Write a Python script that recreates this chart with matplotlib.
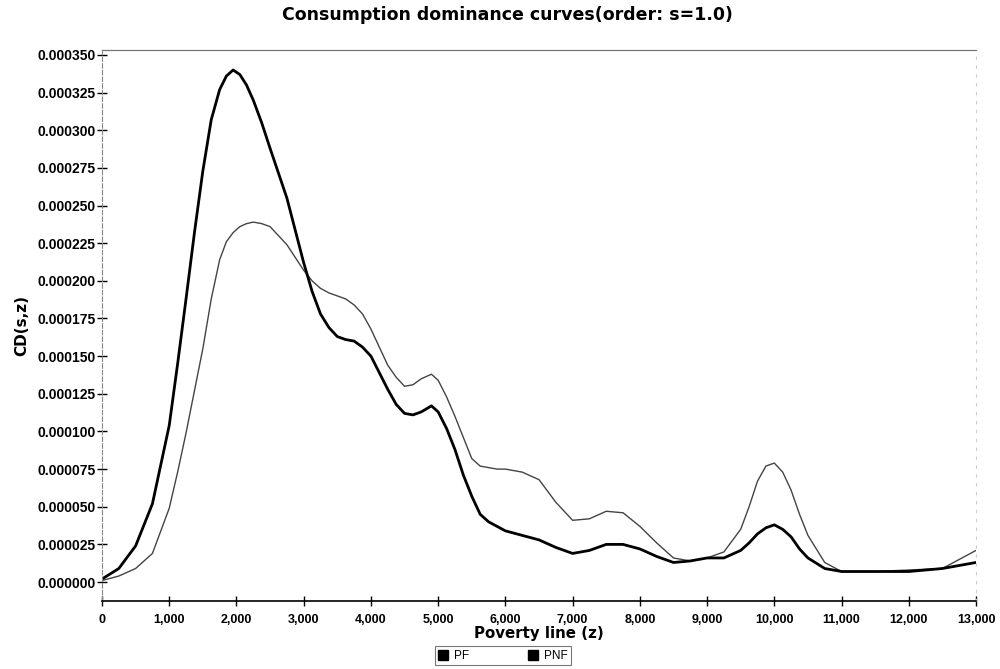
import matplotlib
matplotlib.use('Agg')

import matplotlib.pyplot as plt
import matplotlib.ticker as mticker
from matplotlib.lines import Line2D

# Poverty line grid (z) and the two dominance curves
z = [0, 250, 500, 750, 1000, 1125, 1250, 1375, 1500, 1625, 1750, 1850, 1950,
     2050, 2150, 2250, 2375, 2500, 2750, 3000, 3125, 3250, 3375, 3500, 3625,
     3750, 3875, 4000, 4125, 4250, 4375, 4500, 4625, 4750, 4900, 5000, 5125,
     5250, 5375, 5500, 5625, 5750, 5875, 6000, 6250, 6500, 6750, 7000,
     7250, 7500, 7750, 8000, 8250, 8500, 8750, 9000, 9250, 9500, 9625, 9750,
     9875, 10000, 10125, 10250, 10375, 10500, 10750, 11000, 11500, 12000,
     12500, 13000]

pf = [0.000002, 0.000009, 0.000024, 0.000052, 0.000104, 0.000145, 0.000188,
      0.000232, 0.000273, 0.000307, 0.000327, 0.000336, 0.000340, 0.000337,
      0.000330, 0.000320, 0.000305, 0.000288, 0.000255, 0.000212, 0.000193,
      0.000178, 0.000169, 0.000163, 0.000161, 0.000160, 0.000156, 0.000150,
      0.000139, 0.000128, 0.000118, 0.000112, 0.000111, 0.000113, 0.000117,
      0.000113, 0.000102, 0.000088, 0.000071, 0.000057, 0.000045, 0.000040,
      0.000037, 0.000034, 0.000031, 0.000028,
      0.000023, 0.000019, 0.000021, 0.000025, 0.000025, 0.000022, 0.000017,
      0.000013, 0.000014, 0.000016, 0.000016, 0.000021, 0.000026, 0.000032,
      0.000036, 0.000038, 0.000035, 0.000030, 0.000022, 0.000016, 0.000009,
      0.000007, 0.000007, 0.000007, 0.000009, 0.000013]

pnf = [0.000001, 0.000004, 0.000009, 0.000019, 0.000049, 0.000073, 0.000099,
       0.000127, 0.000155, 0.000188, 0.000214, 0.000226, 0.000232, 0.000236,
       0.000238, 0.000239, 0.000238, 0.000236, 0.000224, 0.000207, 0.000200,
       0.000195, 0.000192, 0.000190, 0.000188, 0.000184, 0.000178, 0.000168,
       0.000156, 0.000144, 0.000136, 0.000130, 0.000131, 0.000135, 0.000138,
       0.000134, 0.000123, 0.000110, 0.000096, 0.000082, 0.000077, 0.000076,
       0.000075, 0.000075, 0.000073, 0.000068,
       0.000053, 0.000041, 0.000042, 0.000047, 0.000046, 0.000037, 0.000026,
       0.000016, 0.000014, 0.000016, 0.000020, 0.000035, 0.000050, 0.000067,
       0.000077, 0.000079, 0.000073, 0.000061, 0.000045, 0.000031, 0.000013,
       0.000007, 0.000007, 0.000008, 0.000009, 0.000021]

series_names = ['PF', 'PNF']
x_ticks = list(range(0, 13001, 1000))
y_ticks = [i * 0.000025 for i in range(15)]

DPI = 100
fig = plt.figure(figsize=(10.0, 6.69), dpi=DPI)
ax = fig.add_axes([0.102, 0.1016, 0.874, 0.8237])

ax.plot(z, pnf, color='#444444', lw=1.0)
ax.plot(z, pf, color='black', lw=2.0)

ax.set_xlim(0, 13000)
ax.set_ylim(-0.0000126, 0.0003533)
ax.set_xticks(x_ticks)
ax.set_yticks(y_ticks)
ax.xaxis.set_major_formatter(mticker.FuncFormatter(lambda v, p: '{:,}'.format(int(v))))
ax.yaxis.set_major_formatter(mticker.FuncFormatter(lambda v, p: '%.6f' % v))

ax.tick_params(axis='both', direction='inout', length=7, width=1.0, color='black')
ax.tick_params(axis='x', pad=6)
ax.tick_params(axis='y', pad=1)
for lab in ax.get_xticklabels():
    lab.set_family('Liberation Sans')
    lab.set_fontsize(9)
    lab.set_fontweight('bold')
for lab in ax.get_yticklabels():
    lab.set_family('Liberation Sans')
    lab.set_fontsize(10)
    lab.set_fontweight('bold')

ax.spines['bottom'].set_color('black')
ax.spines['bottom'].set_linewidth(1.2)
ax.spines['left'].set_color('#888888')
ax.spines['left'].set_linestyle((0, (4, 2)))
ax.spines['left'].set_linewidth(0.8)
ax.spines['top'].set_color('#777777')
ax.spines['top'].set_linewidth(0.9)
ax.spines['right'].set_color('#cccccc')
ax.spines['right'].set_linestyle((0, (2, 6)))
ax.spines['right'].set_linewidth(0.8)

ax.set_xlabel('Poverty line (z)', family='DejaVu Sans', fontsize=10.8,
              fontweight='bold', labelpad=0)
ax.set_ylabel('CD(s,z)', family='DejaVu Sans', fontsize=11,
              fontweight='bold', labelpad=6)

fig.text(0.507, 0.978, 'Consumption dominance curves(order: s=1.0)',
         ha='center', va='center', family='DejaVu Sans', fontsize=12.5,
         fontweight='bold')

handles = [Line2D([], [], marker='s', color='black', ls='none', markersize=7)
           for _ in series_names]
leg = fig.legend(handles, series_names, loc='center', bbox_to_anchor=(0.503, 0.0195),
                 ncol=2, frameon=True, fancybox=False,
                 prop={'family': 'Liberation Sans', 'size': 8.5},
                 handlelength=0.8, handletextpad=0.5, columnspacing=5.0,
                 borderpad=0.3, borderaxespad=0.2, edgecolor='#555555')
leg.get_frame().set_linewidth(0.8)

plt.savefig('out.png', dpi=DPI)
